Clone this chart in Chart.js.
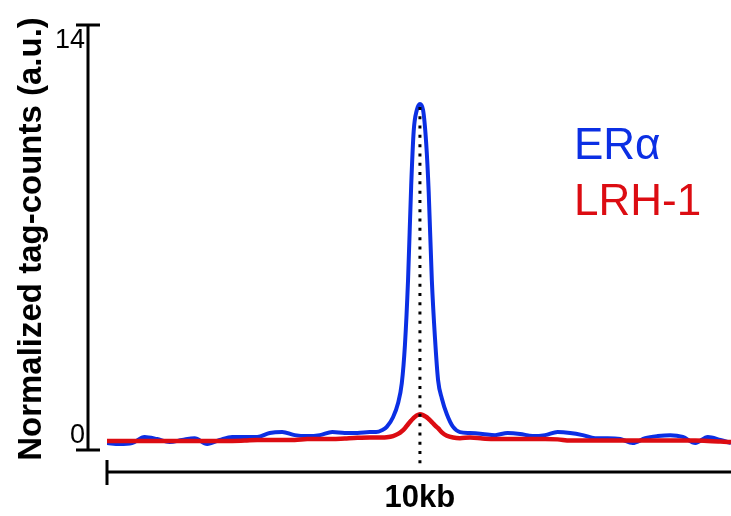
<!DOCTYPE html>
<html>
<head>
<meta charset="utf-8">
<title>ERα / LRH-1 tag density</title>
<script src="https://cdn.jsdelivr.net/npm/chart.js@4"></script>
<style>
    html, body { margin: 0; padding: 0; background: #fff; }
    canvas { display: block; }
</style>
</head>
<body>
<canvas id="profile" width="731" height="516"></canvas>
<script>
/* global Chart */

// distance from the peak centre, in kb
const positionsKb = [
    -5.0, -4.8, -4.6, -4.4, -4.2, -4.0, -3.8, -3.6, -3.4, -3.2, -3.0,
    -2.8, -2.6, -2.4, -2.2, -2.0, -1.8, -1.6, -1.4, -1.2, -1.0, -0.8,
    -0.7, -0.6, -0.53, -0.43, -0.35, -0.29, -0.24, -0.19, -0.14, -0.1, -0.05,
    0, 0.05, 0.1, 0.14, 0.19, 0.24, 0.29, 0.35, 0.43, 0.53, 0.64,
    0.8, 1.0, 1.2, 1.4, 1.6, 1.8, 2.0, 2.2, 2.4, 2.6, 2.8,
    3.0, 3.2, 3.4, 3.6, 3.8, 4.0, 4.2, 4.4, 4.6, 4.8, 4.97
];

const eraCounts = [
    0.23, 0.20, 0.23, 0.43, 0.36, 0.26, 0.33, 0.39, 0.20, 0.33, 0.43,
    0.43, 0.43, 0.56, 0.59, 0.49, 0.46, 0.49, 0.59, 0.56, 0.56, 0.59,
    0.59, 0.66, 0.76, 1.08, 1.54, 2.2, 3.45, 5.6, 8.7, 10.5, 11.2,
    11.4, 11.2, 10.1, 8.5, 5.6, 3.7, 2.3, 1.7, 1.18, 0.76, 0.59,
    0.56, 0.53, 0.49, 0.56, 0.53, 0.46, 0.49, 0.59, 0.56, 0.49, 0.39,
    0.39, 0.36, 0.23, 0.39, 0.46, 0.49, 0.43, 0.23, 0.43, 0.33, 0.23
];

const lrhCounts = [
    0.30, 0.30, 0.30, 0.30, 0.30, 0.30, 0.30, 0.30, 0.30, 0.30, 0.30,
    0.31, 0.33, 0.33, 0.33, 0.33, 0.36, 0.36, 0.36, 0.38, 0.40, 0.41,
    0.41, 0.41, 0.42, 0.46, 0.53, 0.62, 0.72, 0.85, 0.97, 1.06, 1.14,
    1.18, 1.15, 1.09, 1.02, 0.92, 0.81, 0.72, 0.58, 0.47, 0.41, 0.39,
    0.41, 0.38, 0.36, 0.36, 0.36, 0.36, 0.36, 0.35, 0.31, 0.31, 0.31,
    0.31, 0.31, 0.31, 0.31, 0.31, 0.31, 0.31, 0.31, 0.30, 0.28, 0.26
];

const yTickValues = [0, 14];
const yTitle = 'Normalized tag-counts (a.u.)';
const xTitle = '10kb';

const fontFamily = '"Liberation Sans", Arial, Helvetica, sans-serif';
const blue = '#0b2fe4';
const red = '#dc0c12';

const toPoints = (values) => values.map((v, i) => ({ x: positionsKb[i], y: v }));

/**
 * Draws the bracket style axes, labels, legend and the centre marker
 */
const figureDecorations = {
    id: 'figureDecorations',
    afterDatasetsDraw(chart) {
        const ctx = chart.ctx;
        const area = chart.chartArea;
        const xScale = chart.scales.x;
        const yScale = chart.scales.y;
        const yAxisX = area.left - 19;
        const yTop = yScale.getPixelForValue(yTickValues[1]);
        const yBottom = yScale.getPixelForValue(yTickValues[0]);
        const xAxisY = area.bottom + 22;
        const centreX = xScale.getPixelForValue(0);

        ctx.save();

        // dotted centre line
        const peak = Math.max(...eraCounts);
        ctx.strokeStyle = '#000';
        ctx.lineWidth = 3;
        ctx.setLineDash([3, 6.3]);
        ctx.beginPath();
        ctx.moveTo(centreX, yScale.getPixelForValue(peak) + 3);
        ctx.lineTo(centreX, xAxisY - 5);
        ctx.stroke();
        ctx.setLineDash([]);

        // y axis with end caps
        ctx.lineWidth = 3;
        ctx.beginPath();
        ctx.moveTo(yAxisX, yTop);
        ctx.lineTo(yAxisX, yBottom);
        ctx.moveTo(yAxisX - 12, yTop);
        ctx.lineTo(yAxisX + 12, yTop);
        ctx.moveTo(yAxisX - 12, yBottom);
        ctx.lineTo(yAxisX + 12, yBottom);
        ctx.stroke();

        // x axis with left cap
        ctx.beginPath();
        ctx.moveTo(area.left, xAxisY);
        ctx.lineTo(area.right, xAxisY);
        ctx.moveTo(area.left, xAxisY - 12);
        ctx.lineTo(area.left, xAxisY + 13);
        ctx.stroke();

        // tick labels
        ctx.fillStyle = '#000';
        ctx.font = '27px ' + fontFamily;
        ctx.textAlign = 'right';
        ctx.textBaseline = 'middle';
        ctx.fillText(String(yTickValues[1]), yAxisX - 3, yTop + 16);
        ctx.fillText(String(yTickValues[0]), yAxisX - 3, yBottom - 14);

        // x label
        ctx.font = 'bold 31px ' + fontFamily;
        ctx.textAlign = 'center';
        ctx.textBaseline = 'alphabetic';
        ctx.fillText(xTitle, centreX, 507);

        // y title
        ctx.save();
        ctx.translate(41, 239);
        ctx.rotate(-Math.PI / 2);
        ctx.font = 'bold 33px ' + fontFamily;
        ctx.textAlign = 'center';
        ctx.fillText(yTitle, 0, 0);
        ctx.restore();

        // legend
        ctx.font = '44px ' + fontFamily;
        ctx.textAlign = 'left';
        const legendOrder = [1, 0];
        legendOrder.forEach((idx, row) => {
            const ds = chart.data.datasets[idx];
            ctx.fillStyle = ds.borderColor;
            ctx.fillText(ds.label, 574, 159 + row * 56);
        });

        ctx.restore();
    }
};

const drawChart = (element) => {
    'use strict';

    const chart = new Chart(element, { // eslint-disable-line no-unused-vars
        type: 'line',
        data: {
            datasets: [
                {
                    label: 'LRH-1',
                    data: toPoints(lrhCounts),
                    borderColor: red,
                    borderWidth: 4.5,
                    pointRadius: 0,
                    cubicInterpolationMode: 'monotone',
                    fill: false
                },
                {
                    label: 'ERα',
                    data: toPoints(eraCounts),
                    borderColor: blue,
                    borderWidth: 4,
                    pointRadius: 0,
                    cubicInterpolationMode: 'monotone',
                    fill: false
                }
            ]
        },
        options: {
            responsive: false,
            animation: false,
            devicePixelRatio: 1,
            layout: {
                padding: { left: 107, top: 25, right: 0, bottom: 66 }
            },
            plugins: {
                legend: { display: false },
                tooltip: { enabled: false }
            },
            scales: {
                x: { type: 'linear', min: -5, max: 4.97, display: false },
                y: { type: 'linear', min: 0, max: 14, display: false }
            }
        },
        plugins: [figureDecorations]
    });
};

drawChart(document.getElementById('profile'));
</script>
</body>
</html>
